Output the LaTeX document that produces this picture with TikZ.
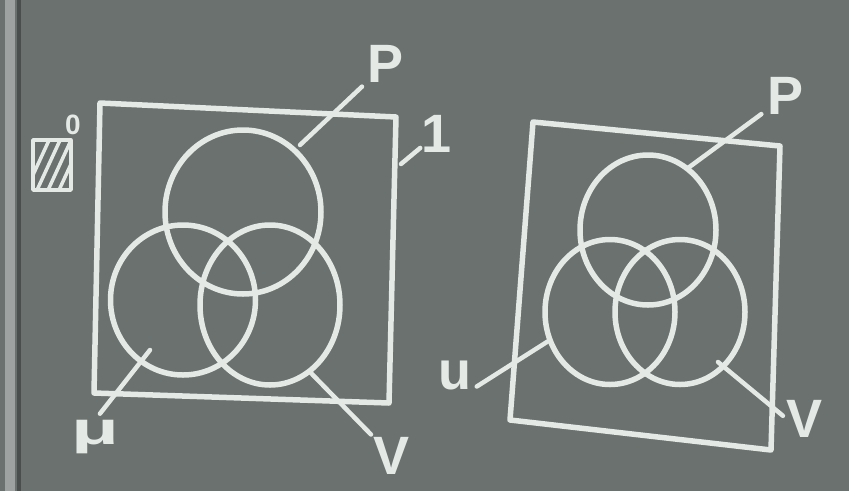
\documentclass[tikz,border=0pt]{standalone}
\usepackage{fontspec}
\setmainfont{Liberation Sans}
\usetikzlibrary{shapes.geometric,positioning,calc}
\definecolor{board}{HTML}{6A716F}
\definecolor{chalk}{HTML}{E4E9E6}

\begin{document}
\begin{tikzpicture}[
    x=1pt, y=-1pt,
    chalk/.style={draw=chalk, line width=5.5pt, line cap=round, line join=round},
    ring/.style={ellipse, chalk, inner sep=0pt},
    lbl/.style={text=chalk, font=\fontsize{54}{54}\selectfont\bfseries, inner sep=0pt},
    lead/.style={chalk, line width=4.5pt}
]
  % board
  \useasboundingbox (0,0) rectangle (849,491);
  \fill[board] (0,0) rectangle (849,491);
  \fill[board!65!white] (5,0) rectangle (15,491);
  \fill[board!70!black] (17,0) rectangle (21,491);

  % left square
  \coordinate (la) at (100,103);
  \coordinate (lb) at (396,117);
  \coordinate (lc) at (389,403);
  \coordinate (ld) at (94,393);
  \draw[chalk] (la) -- (lb) -- (lc) -- (ld) -- cycle;

  % left circles
  \node[ring, minimum width=156, minimum height=164] (lp)  at (243,212) {};
  \node[ring, minimum width=145, minimum height=150] (lmu) at (183,300) {};
  \node[ring, minimum width=140, minimum height=160] (lv)  at (270,305) {};

  % left labels
  \node[lbl] (lP) at (386,64) {P};
  \node[lbl] (l1) at (437,134) {1};
  \node[lbl, font=\fontsize{46}{46}\selectfont\bfseries] (lM) at (95,437) {\scalebox{1.7}[1]{μ}};
  \node[lbl] (lV) at (392,456) {V};
  \node[lbl, font=\fontsize{28}{28}\selectfont\bfseries] (zero) at (73,125) {0};

  % hatched box
  \node[chalk, line width=3.5pt, minimum width=38, minimum height=50] (hatch) at (52,165) {};
  \begin{scope}
    \clip (hatch.south west) rectangle (hatch.north east);
    \foreach \d in {-6,5,16,27}{
      \draw[chalk, line width=3.5pt] ($(hatch.south west)+(\d,0)$) -- ++(24,-52);
    }
  \end{scope}

  % left leaders
  \coordinate (lPin) at (300,145);
  \coordinate (l1in) at (401,164);
  \coordinate (lMin) at (150,350);
  \coordinate (lVin) at (310,372);
  \draw[lead, shorten >=8pt] (lPin) -- (lP);
  \draw[lead, shorten >=2pt] (l1in) -- (l1);
  \draw[lead, shorten >=8pt] (lMin) -- (lM.north);
  \draw[lead, shorten >=4pt] (lVin) -- (lV);

  % right square
  \coordinate (ra) at (533,122);
  \coordinate (rb) at (780,146);
  \coordinate (rc) at (771,450);
  \coordinate (rd) at (510,420);
  \draw[chalk] (ra) -- (rb) -- (rc) -- (rd) -- cycle;

  % right circles
  \node[ring, minimum width=136, minimum height=150] (rp) at (648,230) {};
  \node[ring, minimum width=130, minimum height=145] (ru) at (610,312) {};
  \node[ring, minimum width=130, minimum height=145] (rv) at (680,312) {};

  % right labels
  \node[lbl] (rP) at (786,96) {P};
  \node[lbl] (rU) at (455,375) {u};
  \node[lbl] (rV) at (805,419) {V};

  % right leaders
  \coordinate (rPin) at (688,168);
  \coordinate (rUin) at (550,340);
  \coordinate (rVin) at (718,362);
  \draw[lead, shorten >=8pt] (rPin) -- (rP);
  \draw[lead, shorten >=6pt] (rUin) -- (rU.south east);
  \draw[lead, shorten >=5pt] (rVin) -- (rV.west);
\end{tikzpicture}
\end{document}
